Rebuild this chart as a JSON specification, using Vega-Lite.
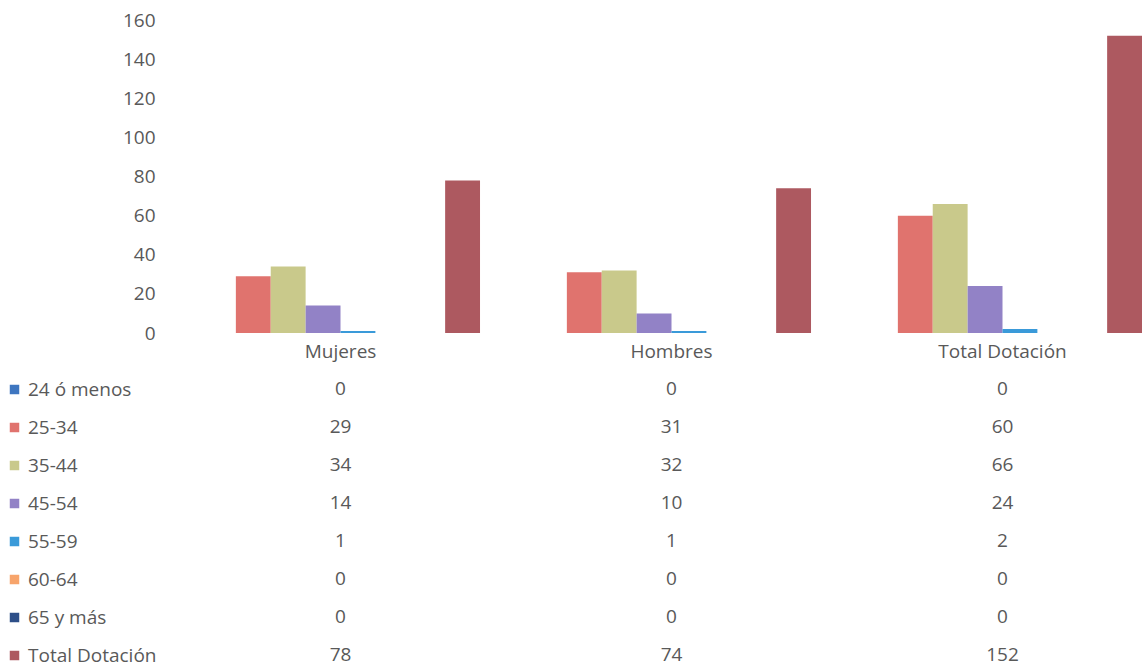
{
  "$schema": "https://vega.github.io/schema/vega-lite/v6.json",
  "width": 967,
  "height": 313,
  "autosize": {"type": "none"},
  "padding": {"left": 175, "top": 20, "right": 0, "bottom": 338},
  "background": "white",
  "config": {
    "view": {"stroke": null},
    "font": "Open Sans",
    "text": {"font": "Open Sans"}
  },
  "data": {
    "values": [
      {"grupo": "Mujeres", "serie": "24 ó menos", "valor": 0},
      {"grupo": "Mujeres", "serie": "25-34", "valor": 29},
      {"grupo": "Mujeres", "serie": "35-44", "valor": 34},
      {"grupo": "Mujeres", "serie": "45-54", "valor": 14},
      {"grupo": "Mujeres", "serie": "55-59", "valor": 1},
      {"grupo": "Mujeres", "serie": "60-64", "valor": 0},
      {"grupo": "Mujeres", "serie": "65 y más", "valor": 0},
      {"grupo": "Mujeres", "serie": "Total Dotación", "valor": 78},
      {"grupo": "Hombres", "serie": "24 ó menos", "valor": 0},
      {"grupo": "Hombres", "serie": "25-34", "valor": 31},
      {"grupo": "Hombres", "serie": "35-44", "valor": 32},
      {"grupo": "Hombres", "serie": "45-54", "valor": 10},
      {"grupo": "Hombres", "serie": "55-59", "valor": 1},
      {"grupo": "Hombres", "serie": "60-64", "valor": 0},
      {"grupo": "Hombres", "serie": "65 y más", "valor": 0},
      {"grupo": "Hombres", "serie": "Total Dotación", "valor": 74},
      {"grupo": "Total Dotación", "serie": "24 ó menos", "valor": 0},
      {"grupo": "Total Dotación", "serie": "25-34", "valor": 60},
      {"grupo": "Total Dotación", "serie": "35-44", "valor": 66},
      {"grupo": "Total Dotación", "serie": "45-54", "valor": 24},
      {"grupo": "Total Dotación", "serie": "55-59", "valor": 2},
      {"grupo": "Total Dotación", "serie": "60-64", "valor": 0},
      {"grupo": "Total Dotación", "serie": "65 y más", "valor": 0},
      {"grupo": "Total Dotación", "serie": "Total Dotación", "valor": 152}
    ]
  },
  "layer": [
    {
      "mark": {"type": "bar", "clip": true},
      "encoding": {
        "x": {
          "field": "grupo",
          "type": "nominal",
          "sort": ["Mujeres", "Hombres", "Total Dotación"],
          "scale": {"range": [0, 993], "paddingInner": 0.157, "paddingOuter": 0.0785},
          "axis": {
            "title": null,
            "labelAngle": 0,
            "domain": false,
            "ticks": false,
            "labelFontSize": 19,
            "labelColor": "#595959",
            "labelPadding": 9,
            "labelFont": "Open Sans"
          }
        },
        "xOffset": {
          "field": "serie",
          "type": "nominal",
          "sort": ["24 ó menos", "25-34", "35-44", "45-54", "55-59", "60-64", "65 y más", "Total Dotación"],
          "scale": {"paddingInner": 0, "paddingOuter": 0}
        },
        "y": {
          "field": "valor",
          "type": "quantitative",
          "scale": {"domain": [0, 160]},
          "axis": {
            "values": [0, 20, 40, 60, 80, 100, 120, 140, 160],
            "title": null,
            "grid": false,
            "domain": false,
            "ticks": false,
            "labelFontSize": 19,
            "labelColor": "#595959",
            "labelPadding": 20,
            "labelFont": "Open Sans"
          }
        },
        "color": {
          "field": "serie",
          "type": "nominal",
          "sort": ["24 ó menos", "25-34", "35-44", "45-54", "55-59", "60-64", "65 y más", "Total Dotación"],
          "scale": {
            "domain": ["24 ó menos", "25-34", "35-44", "45-54", "55-59", "60-64", "65 y más", "Total Dotación"],
            "range": ["#3e76c0", "#e0736e", "#c9c98b", "#9282c6", "#3a9ad9", "#f7a46b", "#2d4f88", "#ad5960"]
          },
          "legend": {
            "orient": "none",
            "legendX": -170,
            "legendY": 360,
            "title": null,
            "symbolType": "square",
            "symbolSize": 90,
            "symbolStrokeWidth": 0,
            "labelFontSize": 19,
            "labelColor": "#595959",
            "labelFont": "Open Sans",
            "labelOffset": 4,
            "labelLimit": 250,
            "rowPadding": 18
          }
        }
      }
    },
    {
      "mark": {"type": "text", "fontSize": 19, "color": "#595959", "font": "Open Sans"},
      "encoding": {
        "x": {
          "field": "grupo",
          "type": "nominal",
          "sort": ["Mujeres", "Hombres", "Total Dotación"]
        },
        "y": {
          "field": "serie",
          "type": "nominal",
          "sort": ["24 ó menos", "25-34", "35-44", "45-54", "55-59", "60-64", "65 y más", "Total Dotación"],
          "scale": {"range": [369, 635], "padding": 0},
          "axis": null
        },
        "text": {"field": "valor", "type": "quantitative"}
      }
    }
  ],
  "resolve": {"scale": {"y": "independent"}}
}
